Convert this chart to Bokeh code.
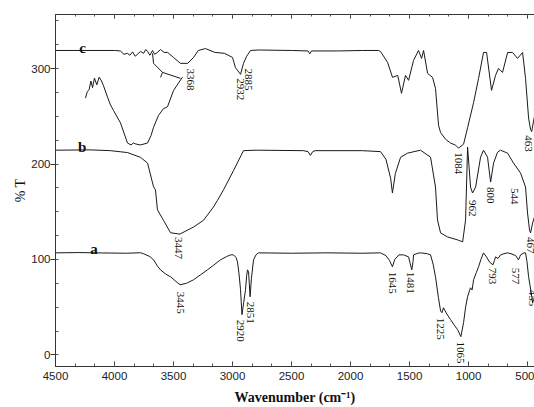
import math
from bokeh.plotting import figure
from bokeh.models import Range1d, LinearAxis, SingleIntervalTicker, ColumnDataSource, CustomJSTickFormatter
from bokeh.core.properties import value
from bokeh.embed import file_html
from bokeh.resources import INLINE

# ---- data (wavenumber cm^-1, %T) ----
c_wn = [4500, 4000, 3950, 3920, 3890, 3870, 3847, 3825, 3805, 3780, 3754, 3735, 3720, 3700, 3678, 3660,
        3636, 3610, 3580, 3551, 3500, 3441, 3380, 3330, 3290, 3229, 3150, 3068, 3000, 2975, 2932, 2907,
        2880, 2847, 2780, 2500, 2360, 2345, 2330, 2100, 1900, 1763, 1746, 1686, 1644, 1600, 1568, 1534,
        1508, 1466, 1424, 1398, 1381, 1347, 1305, 1280, 1254, 1237, 1195, 1152, 1110, 1085, 1042, 1008,
        957, 915, 873, 847, 805, 771, 746, 712, 669, 627, 585, 542, 517, 491, 474, 465, 449, 441]
c_t = [319, 319, 318.5, 315, 316, 314, 317.5, 313, 315, 318, 316, 320, 318, 314, 319, 315,
       317, 320, 317, 317, 311.7, 305.5, 305.5, 311.7, 319, 321, 317, 316, 311.7, 301, 294, 305.5,
       313, 319, 319.5, 319, 318.5, 315.5, 318.5, 318.5, 319, 319, 318, 306.5, 290.8, 292.9, 274.1, 292.9,
       287.7, 308.6, 319, 310.7, 319, 295, 290.8, 279.3, 240.6, 233, 226, 221.9, 219.8, 216.6, 220.8, 238,
       264.5, 289.8, 316.9, 316.9, 277.2, 292.9, 300.2, 296, 316.9, 316.9, 310.7, 316.9, 289.8, 248, 236, 234, 245, 250]

inset_wn = [4246, 4230, 4215, 4200, 4186, 4170, 4150, 4130, 4110, 4093, 4059, 4034, 4008, 3949,
            3890, 3860, 3840, 3820, 3780, 3720, 3690, 3669, 3627, 3585, 3551, 3500, 3441, 3424]
inset_t = [269, 276, 278, 287, 280, 290, 283, 291, 287, 282, 270, 262, 256, 243,
           222, 220, 222, 221, 220, 222, 230, 238.6, 251, 258, 260, 277, 288, 291]

callout_wn = [3678, 3669, 3593, 3441]
callout_t = [316.0, 305.5, 296.0, 289.8]
tick_wn = [3593, 3610]
tick_t = [296.0, 290.8]

b_wn = [4500, 4200, 4034, 3890, 3780, 3720, 3669, 3653, 3636, 3585, 3525, 3447, 3330, 3246, 3161,
        3127, 3076, 2992, 2907, 2800, 2400, 2360, 2340, 2320, 2300, 1900, 1746, 1700, 1660, 1645,
        1620, 1576, 1517, 1407, 1322, 1280, 1263, 1237, 1178, 1093, 1050, 1025, 1008, 983, 966,
        940, 898, 873, 839, 813, 788, 754, 729, 669, 619, 559, 517, 500, 483, 474, 457, 441]
b_t = [214.5, 214.8, 214, 212, 207, 201, 176, 173, 152, 141, 128, 126.5, 134, 141, 155,
       162, 173, 193, 214, 214.5, 214, 213, 209, 213, 214, 214, 213, 205, 185, 169.6,
       190, 207, 211.4, 214.5, 207.2, 175.9, 141.4, 127.8, 123.6, 120.5, 118.4, 141.4, 217.7, 175.9, 169.6,
       175.9, 207.2, 214.5, 207.2, 181.1, 201, 212.4, 214.5, 211.4, 201, 190.5, 175.9, 148.7, 130.9, 127.8, 138.3, 144.5]

a_wn = [4500, 4300, 4100, 3900, 3780, 3754, 3700, 3669, 3636, 3610, 3570, 3525, 3480, 3445, 3390,
        3330, 3270, 3212, 3160, 3102, 3050, 3017, 2992, 2970, 2958, 2945, 2932, 2920, 2905, 2890,
        2880, 2873, 2864, 2858, 2851, 2840, 2822, 2800, 2780, 2500, 2200, 1900, 1746, 1700, 1670,
        1645, 1625, 1590, 1551, 1508, 1495, 1481, 1470, 1466, 1430, 1407, 1350, 1322, 1300, 1280,
        1255, 1237, 1225, 1212, 1190, 1152, 1120, 1093, 1065, 1042, 1025, 1008, 995, 983, 970,
        957, 935, 915, 895, 873, 850, 820, 793, 780, 771, 750, 729, 700, 669, 640, 600, 577,
        565, 559, 530, 517, 505, 491, 470, 457, 448, 441]
a_t = [106.9, 107.2, 106.8, 106.5, 107, 106, 103, 99.6, 93, 89.1, 85, 81.8, 77, 73.5, 75,
       78.7, 84, 89.1, 94, 99.6, 103, 104.8, 104.8, 102, 97.5, 85, 68.2, 42.1, 55, 68.2,
       83, 89.1, 87, 75, 60.9, 80, 99.6, 105, 106.9, 106.5, 106.9, 106.5, 106.9, 104, 99,
       92.3, 100, 104.8, 104.8, 102.7, 96, 89.1, 98, 104.8, 106.5, 106.9, 106, 104.8, 95, 81.8,
       60, 46, 44.2, 49.4, 44, 36.9, 31, 26.4, 19.1, 33.8, 50, 60.9, 66, 70.3, 68,
       78.7, 86, 92.3, 100, 106.9, 103, 97, 94.4, 99, 102.7, 101, 104.8, 106, 106.9, 106, 104, 99.6,
       103, 104.8, 106.9, 106.9, 98, 81.8, 66, 54.7, 58, 60.9]

peak_text = ["3368", "2932", "2885", "1084", "463",
             "3447", "962", "800", "544", "467",
             "3445", "2920", "2851", "1645", "1481", "1225", "1065", "793", "577", "455"]
peak_wn = [3356, 2932, 2864, 1085, 491,
           3458, 966, 813, 610, 474,
           3441, 2932, 2847, 1644, 1491, 1237, 1068, 796, 602, 457]
peak_t = [300.2, 289.8, 300.2, 212.4, 230.1,
          123.6, 162.3, 175.9, 174.9, 123.6,
          66.2, 36.9, 55.7, 87, 87, 38.9, 13.9, 91.2, 91.2, 68.2]

curve_names = ["c", "b", "a"]
curve_name_wn = [4271, 4275, 4174]
curve_name_t = [321.1, 217.7, 111.1]

# ---- figure ----
p = figure(width=534, height=407, output_backend="svg", toolbar_location=None,
           x_range=Range1d(4500, 441), y_range=Range1d(-12.2, 356.7),
           min_border_left=55, min_border_right=0, min_border_top=14, min_border_bottom=40,
           background_fill_color="white", border_fill_color="white")
p.outline_line_color = None
p.xgrid.visible = False
p.ygrid.visible = False

line_col = "#1a1a1a"
p.line(c_wn, c_t, line_color=line_col, line_width=1)
p.line(inset_wn, inset_t, line_color=line_col, line_width=1)
p.line(callout_wn, callout_t, line_color=line_col, line_width=1)
p.line(tick_wn, tick_t, line_color=line_col, line_width=1)
p.line(b_wn, b_t, line_color=line_col, line_width=1)
p.line(a_wn, a_t, line_color=line_col, line_width=1)

src = ColumnDataSource(dict(x=peak_wn, y=peak_t, t=peak_text))
p.text(x="x", y="y", text="t", source=src, angle=-math.pi / 2, text_align="left",
       text_baseline="middle", text_font=value("Liberation Serif"), text_font_size="11px",
       text_color="#111111")

src2 = ColumnDataSource(dict(x=curve_name_wn, y=curve_name_t, t=curve_names))
p.text(x="x", y="y", text="t", source=src2, text_align="center", text_baseline="alphabetic",
       text_font=value("Liberation Serif"), text_font_size="15px", text_font_style="bold",
       text_color="#111111")

# axes
xt = SingleIntervalTicker(interval=500, num_minor_ticks=3)
yt = SingleIntervalTicker(interval=100, num_minor_ticks=4)
xa = p.xaxis[0]
xa.ticker = xt
xa.axis_label = "Wavenumber (cm\u207b\u00b9)"
xa.axis_label_text_font = "Liberation Serif"
xa.axis_label_text_font_style = "bold"
xa.axis_label_text_font_size = "14px"
xa.axis_label_text_color = "#111111"
xa.axis_label_standoff = 7
xa.major_label_text_font = "Liberation Sans"
xa.major_label_text_font_size = "11.5px"
xa.major_label_text_color = "#222222"
xa.major_tick_in = 5
xa.major_tick_out = 0
xa.minor_tick_in = 3
xa.minor_tick_out = 0
xa.major_label_standoff = 5
xa.axis_line_color = "#333333"
xa.major_tick_line_color = "#333333"
xa.minor_tick_line_color = "#555555"

ya = p.yaxis[0]
ya.ticker = yt
ya.axis_label = "% T"
ya.axis_label_text_font = "Liberation Serif"
ya.axis_label_text_font_style = "normal"
ya.axis_label_text_font_size = "14px"
ya.axis_label_text_color = "#111111"
ya.axis_label_standoff = 0
ya.major_label_text_font = "Liberation Sans"
ya.major_label_text_font_size = "11.5px"
ya.major_label_text_color = "#222222"
ya.major_tick_in = 0
ya.major_tick_out = 5
ya.minor_tick_in = 3
ya.minor_tick_out = 0
ya.major_label_standoff = 0
ya.axis_line_color = "#333333"
ya.major_tick_line_color = "#333333"
ya.minor_tick_line_color = "#555555"

top = LinearAxis(ticker=SingleIntervalTicker(interval=500, num_minor_ticks=3),
                 formatter=CustomJSTickFormatter(code="return '';"),
                 major_tick_in=4, major_tick_out=0,
                 minor_tick_in=2, minor_tick_out=0, major_label_standoff=0,
                 axis_line_color="#333333", major_tick_line_color="#333333",
                 minor_tick_line_color="#555555")
p.add_layout(top, "above")

open("out.html", "w").write(file_html(p, INLINE))
